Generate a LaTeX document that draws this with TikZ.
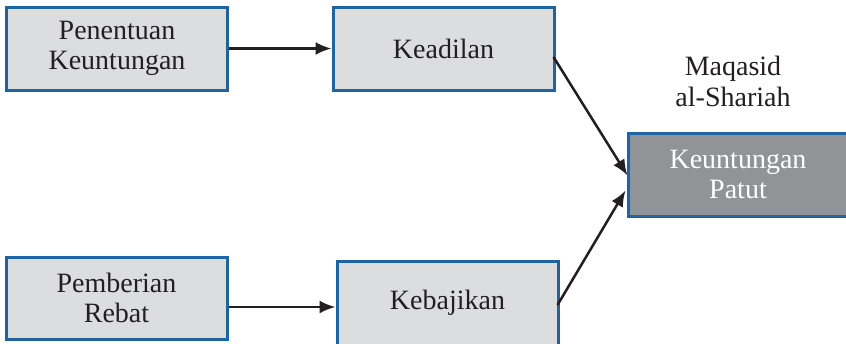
\documentclass[tikz,border=0pt]{standalone}
\usepackage{fontspec}
\setmainfont{Liberation Serif}
\usetikzlibrary{arrows.meta,calc}
\definecolor{boxfill}{HTML}{DCDDDF}
\definecolor{boxedge}{HTML}{1F63A1}
\definecolor{darkfill}{HTML}{929396}
\definecolor{ink}{HTML}{231F20}
\begin{document}
\begin{tikzpicture}[x=1pt,y=-1pt,
  box/.style={draw=boxedge,line width=3pt,fill=boxfill,minimum width=221pt,minimum height=83pt,
    align=center,text=ink,font=\fontsize{28}{30.5}\selectfont,inner sep=0pt},
  darkbox/.style={box,fill=darkfill,text=white},
  conn/.style={draw=ink,line width=2.5pt,-{Latex[length=16pt,width=13pt]}}]
\useasboundingbox (0,0) rectangle (846,343);
\clip (0,0) rectangle (846,343);
\node[box] (pk) at (117,48.5) {Penentuan\\Keuntungan};
\node[box] (kd) at (443.5,48.5) {Keadilan};
\node[darkbox,minimum width=220pt] (kp) at (738,174.5) {Keuntungan\\Patut};
\node[box,minimum height=82pt] (pr) at (116.5,298) {Pemberian\\Rebat};
\node[box,minimum height=84pt] (kb) at (447.5,303) {Kebajikan};
\node[text=ink,align=center,font=\fontsize{28}{31}\selectfont] (mq) at (733,81) {Maqasid\\al-Shariah};
\draw[conn] (pk.east) -- (kd.west);
\draw[conn] ($(pr.east)+(0,9)$) -- ($(kb.west)+(0,4)$);
\draw[conn] ($(kd.east)+(-2,8.5)$) -- ($(kp.west)+(1,1)$);
\draw[conn] ($(kb.east)+(-2,2)$) -- ($(kp.west)+(-1,16)$);
\end{tikzpicture}
\end{document}
